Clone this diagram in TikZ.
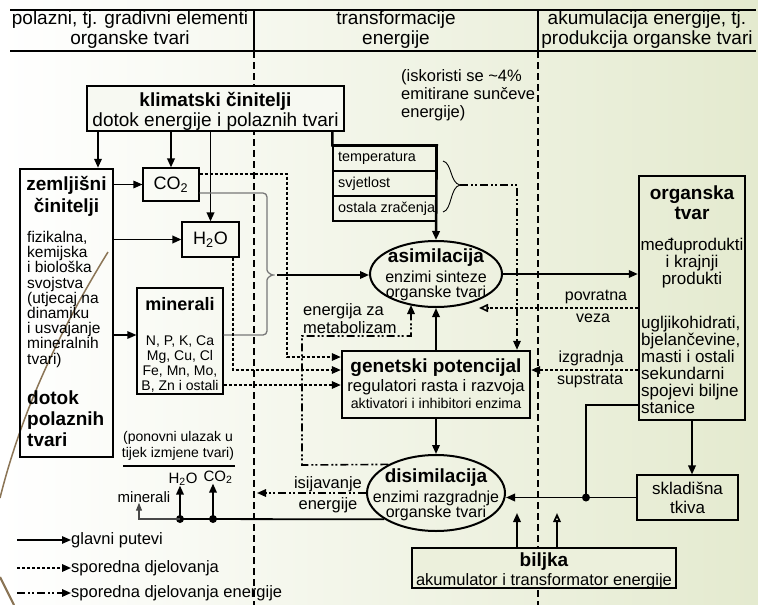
\documentclass[tikz,border=0pt]{standalone}
\usepackage{fontspec}
\setmainfont{Liberation Sans}
\usetikzlibrary{arrows.meta,positioning,fit,shapes.geometric}
\definecolor{pozR}{RGB}{228,234,207}
\definecolor{siva}{RGB}{120,120,120}
\definecolor{smeda}{RGB}{139,117,86}
\newcommand\fsz[2]{\fontsize{#1}{#2}\selectfont}

\begin{document}
\begin{tikzpicture}[x=1pt,y=-1pt,box/.style={draw,line width=2.4pt,inner sep=0pt},tbox/.style={draw,line width=1.1pt,inner sep=0pt},txt/.style={inner sep=0pt,align=center},elli/.style={draw,ellipse,line width=2pt,inner sep=0pt},vrh/.style={-{Triangle[length=9pt,width=7.5pt]}},glav/.style={vrh,line width=1.8pt},spor/.style={vrh,line width=1.6pt,dash pattern=on 3pt off 2pt},ener/.style={vrh,line width=1.6pt,dash pattern=on 8pt off 3pt on 2pt off 2pt on 2pt off 3pt},granica/.style={line width=1.4pt,dash pattern=on 7pt off 4pt},tocka/.style={circle,fill,inner sep=0pt,minimum size=8pt}]
\useasboundingbox (0,0) rectangle (758,605);
\shade[left color=white,right color=pozR] (0,0) rectangle (758,605);
\draw[smeda,line width=1.5pt] (108,252) .. controls (60,330) and (22,410) .. (0,498);
\draw[smeda,line width=2.2pt] (0,577) -- (14,605);
\draw[line width=1.6pt] (10,10) -- (756,10) (10,51) -- (756,51);
\draw[line width=1.4pt] (254,10) -- (254,51) (538,10) -- (538,51);
\draw[granica] (254,51) -- (254,605) (538,51) -- (538,605);
\node[txt,font=\fsz{19}{20}] (hLijevo) at (130,30) {polazni, tj. gradivni elementi\\organske tvari};
\node[txt,font=\fsz{19}{20}] (hSredina) at (396,30) {transformacije\\energije};
\node[txt,font=\fsz{19}{20}] (hDesno) at (647,30) {akumulacija energije, tj.\\produkcija organske tvari};
\node[txt,align=left,anchor=north west,font=\fsz{16.5}{18}] (iskor) at (401,69) {(iskoristi se \textasciitilde4\%\\emitirane sunčeve\\energije)};

\node[box,fill=pozR!28!white,fit={(87,86) (344,131)}] (klim) {};
\node[txt,font=\fsz{19}{20}] (klimT) at (215.5,111) {\textbf{klimatski činitelji}\\dotok energije i polaznih tvari};
\node[box,fit={(20,169) (113,457)}] (zem) {};
\node[txt,anchor=north,font=\fsz{19}{22}\bfseries] (zemN) at (66.5,176) {zemljišni\\činitelji};
\node[txt,align=left,anchor=north west,font=\fsz{15.5}{15.2}] (zemO) at (27,231) {fizikalna,\\kemijska\\i biološka\\svojstva\\(utjecaj na\\dinamiku\\i usvajanje\\mineralnih\\tvari)};
\node[txt,align=left,anchor=north west,font=\fsz{19}{21}\bfseries] (zemD) at (27,391) {dotok\\polaznih\\tvari};
\node[tbox,fit={(143,168) (199,201)}] (co2) {};
\node[txt,font=\fsz{18}{20}] (co2T) at (co2) {CO\textsubscript{2}};
\node[tbox,fit={(182,222) (239,257)}] (h2o) {};
\node[txt,font=\fsz{18}{20}] (h2oT) at (h2o) {H\textsubscript{2}O};
\node[tbox,fit={(137,288) (223,394)}] (min) {};
\node[txt,font=\fsz{18}{20}\bfseries] (minN) at (180,304) {minerali};
\node[txt,font=\fsz{14}{15}] (minL) at (180,364) {N, P, K, Ca\\Mg, Cu, Cl\\Fe, Mn, Mo,\\B, Zn i ostali};
\coordinate (vZ) at (98,0); \coordinate (vM) at (0,335);
\draw[glav] (klim.south -| vZ) -- (zem.north -| vZ);
\draw[glav] (klim.south -| co2.north) -- (co2.north);
\draw[glav] (klim.south -| h2o.north) -- (h2o.north);
\draw[glav,line width=1.3pt] (zem.east |- co2.west) -- (co2.west);
\draw[glav] (zem.east |- h2o.west) -- (h2o.west);
\draw[glav,line width=1.3pt] (zem.east |- vM) -- (min.west |- vM);

\node[tbox,line width=1.4pt,fit={(333,146) (436,171)}] (t1) {};
\node[tbox,line width=1.4pt,fit={(333,171) (436,196)}] (t2) {};
\node[tbox,line width=1.4pt,fit={(333,196) (436,221)}] (t3) {};
\node[txt,anchor=west,font=\fsz{14.4}{16}] (t1T) at (338,158) {temperatura};
\node[txt,anchor=west,font=\fsz{14.4}{16}] (t2T) at (338,183.5) {svjetlost};
\node[txt,anchor=west,font=\fsz{14.4}{16}] (t3T) at (338,208.5) {ostala zračenja};
\node[elli,minimum width=132pt,minimum height=66pt] (asim) at (436,274) {};
\node[txt,font=\fsz{19}{20}\bfseries] (asimN) at (436,258) {asimilacija};
\node[txt,font=\fsz{16}{15}] (asimO) at (436,286) {enzimi sinteze\\organske tvari};
\draw[glav,line width=2.6pt] (klim.south -| t1.west) -- (t1.north west) -- (t1.north east) -- (asim.north);
\coordinate (zagV) at (460,185); \coordinate (eK) at (517,185);
\draw[line width=0.9pt] (443,161) .. controls (452,163) and (450,183) .. (zagV) .. controls (450,187) and (452,210) .. (443,212);

\node[box,fit={(342,351) (530,418)}] (gen) {};
\node[txt,font=\fsz{19}{20}\bfseries] (genN) at (436,368) {genetski potencijal};
\node[txt,font=\fsz{16.6}{18}] (genR) at (436,387) {regulatori rasta i razvoja};
\node[txt,font=\fsz{14.2}{16}] (genA) at (436,403) {aktivatori i inhibitori enzima};
\draw[ener] (zagV) -- (eK) -- (gen.north -| eK);
\coordinate (sv1) at (267,193); \coordinate (sv2) at (267,335); \coordinate (zagL) at (277,275);
\draw[siva,line width=1.3pt,rounded corners=4pt] (co2.east |- sv1) -- (sv1) -- (267,266) .. controls (267,272) and (271,275) .. (zagL) .. controls (271,275) and (267,278) .. (267,284) -- (sv2) -- (min.east |- sv2);
\draw[glav] (zagL) -- (asim.west |- zagL);
\coordinate (s1) at (287,174); \coordinate (s1d) at (287,357); \coordinate (s2) at (233,370); \coordinate (s3) at (0,385);
\draw[spor] (co2.east |- s1) -- (s1) -- (s1d) -- (gen.west |- s1d);
\draw[spor] (h2o.south -| s2) -- (s2) -- (gen.west |- s2);
\draw[spor] (min.east |- s3) -- (gen.west |- s3);

\node[box,fit={(639,176) (745,420)}] (org) {};
\node[txt,font=\fsz{19}{20}\bfseries] (orgN) at (692,203) {organska\\tvar};
\node[txt,font=\fsz{17}{14.5}] (orgM) at (692,263) {međuprodukti\\i krajnji\\produkti};
\node[txt,align=left,anchor=north west,font=\fsz{17}{17}] (orgO) at (641,316) {ugljikohidrati,\\bjelančevine,\\masti i ostali\\sekundarni\\spojevi biljne\\stanice};
\draw[glav] (asim.east) -- (org.west |- asim.east);
\coordinate (pvK) at (479,308); \coordinate (izK) at (600,370);
\draw[spor,-{Triangle[open,length=9pt,width=8pt]}] (org.west |- pvK) -- (pvK);
\draw[spor] (org.west |- izK) -- (gen.east |- izK);
\node[txt,font=\fsz{16}{17}] (pvN) at (596,297) {povratna};
\node[txt,font=\fsz{16}{17}] (pvV) at (593,318) {veza};
\node[txt,font=\fsz{16}{17}] (izN) at (591,358) {izgradnja};
\node[txt,font=\fsz{16}{17}] (izS) at (590,381) {supstrata};

\node[elli,minimum width=138pt,minimum height=76pt] (disim) at (436,493) {};
\node[txt,font=\fsz{19}{20}\bfseries] (disimN) at (436,478) {disimilacija};
\node[txt,font=\fsz{16}{15}] (disimO) at (436,506) {enzimi razgradnje\\organske tvari};
\draw[glav] (gen.north) -- (asim.south);
\draw[glav] (gen.south) -- (disim.north);
\coordinate (m1) at (302,465); \coordinate (m2) at (302,336); \coordinate (m3) at (411,336); \coordinate (m4) at (411,305);
\draw[ener] (disim.149) -- (m1) -- (m2) -- (m3) -- (m4);
\node[txt,align=left,anchor=north west,font=\fsz{16.5}{18}] (metab) at (303,303) {energija za\\metabolizam};
\coordinate (iK) at (257,493);
\draw[ener] (disim.west) -- (iK);
\node[txt,font=\fsz{16.5}{18}] (isij) at (328,484) {isijavanje};
\node[txt,font=\fsz{16.5}{18}] (isijE) at (328,505) {energije};

\node[txt,font=\fsz{14}{16}] (ponov) at (178,446) {(ponovni ulazak u\\tijek izmjene tvari)};
\draw[line width=1.4pt] (123,466) -- (235,466);
\node[txt,font=\fsz{15}{16}] (h2oL) at (183,479) {H\textsubscript{2}O};
\node[txt,font=\fsz{15}{16}] (co2L) at (218,477) {CO\textsubscript{2}};
\node[txt,font=\fsz{15}{16}] (minerL) at (144,497) {minerali};
\node[tocka] (d1) at (180,519) {};
\node[tocka] (d2) at (213,519) {};
\coordinate (mx) at (139,519);
\draw[line width=1.8pt] (disim.207) -- (d1.center);
\draw[glav] (d1.center) -- (d1 |- h2oL.south);
\draw[glav] (d2.center) -- (d2 |- co2L.south);
\draw[siva!60!black,line width=1.1pt,-{Triangle[length=8pt,width=6pt]}] (d1.center) -- (mx) -- (minerL.south -| mx);

\node[tbox,fit={(637,475) (738,520)}] (skl) {};
\node[txt,font=\fsz{17}{19}] (sklT) at (skl) {skladišna\\tkiva};
\node[tocka] (dS) at (586,497.5) {};
\coordinate (oJ) at (586,405);
\draw[glav] (org.south) -- (skl.north -| org.south);
\draw[glav] (skl.west) -- (disim.east |- skl.west);
\draw[line width=1.2pt] (org.west |- oJ) -- (oJ) -- (dS.center);
\node[box,fill=pozR!72!white,fit={(412,548) (676,588)}] (bilj) {};
\node[txt,font=\fsz{19}{20}\bfseries] (biljN) at (544,562) {biljka};
\node[txt,font=\fsz{16.5}{18}] (biljO) at (544,581) {akumulator i transformator energije};
\coordinate (b1) at (517,513); \coordinate (b2) at (557,513);
\draw[glav] (bilj.north -| b1) -- (b1);
\draw[line width=1.8pt,-{Triangle[open,length=9pt,width=7.5pt]}] (bilj.north -| b2) -- (b2);

\coordinate (lgS) at (17,0);
\node[txt,anchor=west,font=\fsz{16.5}{18}] (lg1) at (71,540) {glavni putevi};
\node[txt,anchor=west,font=\fsz{16.5}{18}] (lg2) at (71,568) {sporedna djelovanja};
\node[txt,anchor=west,font=\fsz{16.5}{18}] (lg3) at (71,593) {sporedna djelovanja energije};
\draw[vrh,line width=1.2pt] (lg1.west -| lgS) -- (lg1.west);
\draw[spor] (lg2.west -| lgS) -- (lg2.west);
\draw[ener] (lg3.west -| lgS) -- (lg3.west);
\end{tikzpicture}
\end{document}
